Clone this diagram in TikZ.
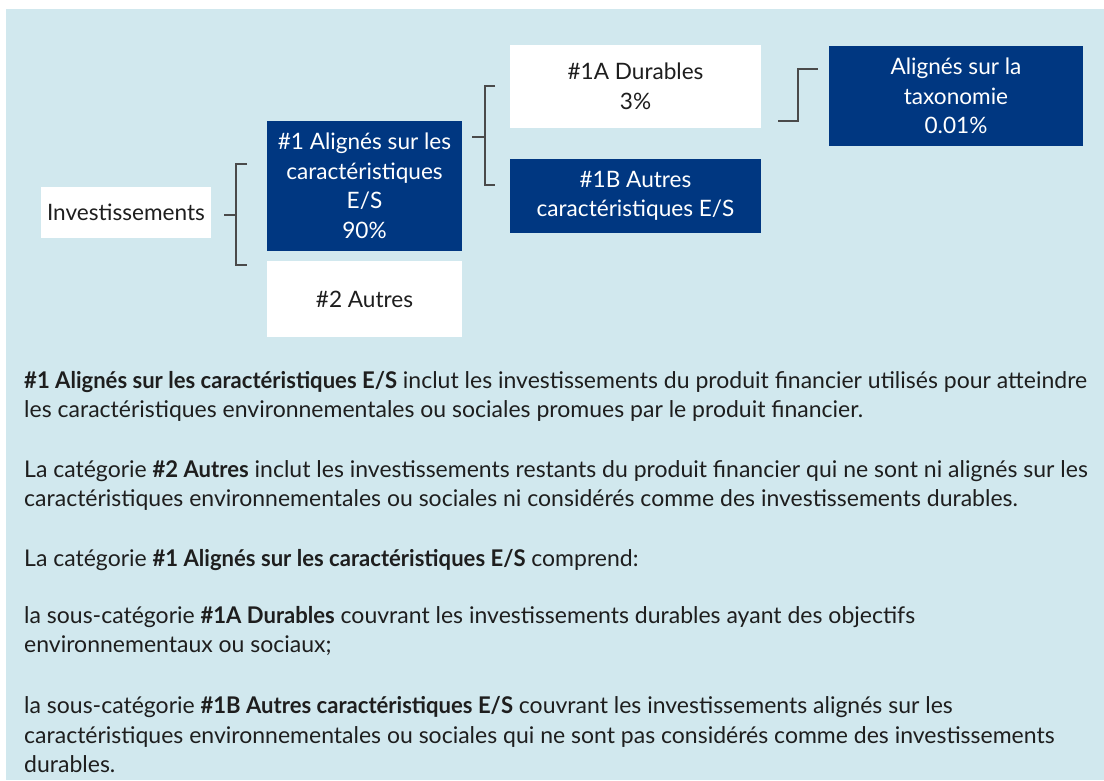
\documentclass[tikz,border=0pt]{standalone}
\usepackage{fontspec}
\setmainfont{Lato}[BoldFeatures={FakeStretch=0.96}]
\definecolor{azblue}{HTML}{003781}
\definecolor{panel}{HTML}{D1E8EE}
\definecolor{ink}{HTML}{1E1E1E}
\definecolor{rule}{HTML}{4A4A4A}
\tikzset{
  box/.style={inner sep=0pt, align=center, font=\fontsize{22.6}{29.5}\selectfont},
  darkbox/.style={box, fill=azblue, text=white},
  whitebox/.style={box, fill=white, text=ink},
  link/.style={draw=rule, line width=1.3pt},
  para/.style={anchor=base west, inner sep=0pt, text=ink, font=\fontsize{23}{29}\selectfont},
}
\begin{document}
\begin{tikzpicture}[x=1pt,y=-1pt]
\useasboundingbox (0,0) rectangle (1104,780);
\fill [panel] (6,9) rectangle (1104,780);
% boxes
\node (inv) at (126,212.5) [whitebox, minimum width=170pt, minimum height=51pt] {Investissements};
\node (es) at (364.5,186) [darkbox, minimum width=195pt, minimum height=130pt] {\#1 Alignés sur les\\caractéristiques\\E/S\\90\%};
\node (autres) at (364.5,299) [whitebox, minimum width=195pt, minimum height=76pt] {\#2 Autres};
\node (dur) at (635.5,86.5) [whitebox, minimum width=251pt, minimum height=83pt] {\#1A Durables\\3\%};
\node (autes) at (635.5,196) [darkbox, minimum width=251pt, minimum height=74pt] {\#1B Autres\\caractéristiques E/S};
\node (taxo) at (956,96) [darkbox, minimum width=254pt, minimum height=100pt] {Alignés sur la\\taxonomie\\0.01\%};
% brackets
\coordinate (k1) at (236,215);
\coordinate (k1t) at (247,164);
\coordinate (k1b) at (247,265);
\draw [link] (k1) -- ++(-12,0);
\draw [link] (k1t) -| (k1) |- (k1b);
\coordinate (k2) at (485,137);
\coordinate (k2t) at (495,86);
\coordinate (k2b) at (495,185);
\draw [link] (k2) -- ++(-13,0);
\draw [link] (k2t) -| (k2) |- (k2b);
\coordinate (t1) at (778,121);
\coordinate (t2) at (818,69);
\draw [link] (t1) -- ++(20,0) |- (t2);
% text
\node (p1) at (24,388) [para] {\textbf{\#1 Alignés sur les caractéristiques E/S} inclut les investissements du produit financier utilisés pour atteindre};
\node (p1b) at (24,417) [para] {les caractéristiques environnementales ou sociales promues par le produit financier.};
\node (p2) at (24,477) [para] {La catégorie \textbf{\#2 Autres} inclut les investissements restants du produit financier qui ne sont ni alignés sur les};
\node (p2b) at (24,506) [para] {caractéristiques environnementales ou sociales ni considérés comme des investissements durables.};
\node (p3) at (24,566) [para] {La catégorie \textbf{\#1 Alignés sur les caractéristiques E/S} comprend:};
\node (p4) at (24,623) [para] {la sous-catégorie \textbf{\#1A Durables} couvrant les investissements durables ayant des objectifs};
\node (p4b) at (24,652) [para] {environnementaux ou sociaux;};
\node (p5) at (24,713) [para] {la sous-catégorie \textbf{\#1B Autres caractéristiques E/S} couvrant les investissements alignés sur les};
\node (p5b) at (24,743) [para] {caractéristiques environnementales ou sociales qui ne sont pas considérés comme des investissements};
\node (p5c) at (24,772) [para] {durables.};
\end{tikzpicture}
\end{document}
